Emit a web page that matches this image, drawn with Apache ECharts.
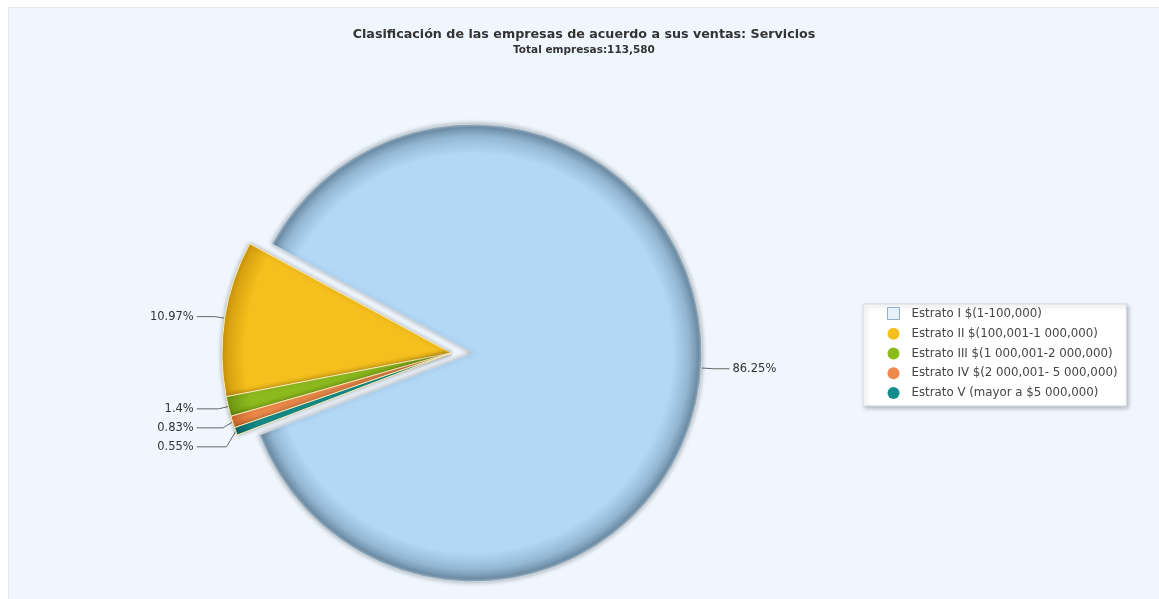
<!DOCTYPE html>
<html>
<head>
<meta charset="utf-8">
<script src="https://cdn.jsdelivr.net/npm/echarts@6/dist/echarts.min.js"></script>
<style>
  html, body { margin: 0; padding: 0; background: #ffffff; }
  #cv { position: absolute; left: 8px; top: 7px; width: 1151px; height: 592px;
        background: #eff6fd; border-left: 1px solid #e2eaf2; border-top: 1px solid #e2eaf2; box-sizing: border-box; }
</style>
</head>
<body>
<div id="cv"></div>
<script>
var estratos = ['Estrato I $(1-100,000)', 'Estrato II $(100,001-1 000,000)', 'Estrato III $(1 000,001-2 000,000)',
                'Estrato IV $(2 000,001- 5 000,000)', 'Estrato V (mayor a $5 000,000)'];
var porcentajes = [86.25, 10.97, 1.4, 0.83, 0.55];
var colores = ['#b3d8f6', '#f5bf1d', '#8dbb1e', '#ef8a4c', '#148e8d'];
var bordes = ['#6f8fa8', '#cf990d', '#6c9412', '#cf6a2c', '#0c6a69'];

// centro del pastel y desplazamiento del grupo separado
var cx = 464, cy = 345, radio = 229, separacion = 22;

var myChart = echarts.init(document.getElementById('cv'));

function relleno(i, x) {
    var stops = i === 0
        ? [{offset: 0, color: colores[0]}, {offset: 0.87, color: colores[0]},
           {offset: 0.945, color: '#93b7d3'}, {offset: 0.985, color: bordes[0]}, {offset: 1, color: '#a8bccc'}]
        : [{offset: 0, color: colores[i]}, {offset: 0.9, color: colores[i]}, {offset: 1, color: bordes[i]}];
    return {type: 'radial', x: x, y: cy, r: radio, global: true, colorStops: stops};
}

var oculto = {color: 'rgba(0,0,0,0)', borderWidth: 0, shadowBlur: 0};

// serie del estrato I (rebanada grande)
var datosGrande = estratos.map(function (n, i) {
    return {
        name: n,
        value: porcentajes[i],
        label: {show: i === 0},
        labelLine: {show: i === 0},
        itemStyle: i === 0
            ? {color: relleno(0, cx), borderColor: '#c9d6e0', borderWidth: 1, shadowBlur: 5, shadowColor: 'rgba(0,0,0,0.3)'}
            : oculto
    };
});

// serie de los estratos II-V (grupo separado)
var datosSeparados = estratos.map(function (n, i) {
    return {
        name: n,
        value: porcentajes[i],
        label: {show: i > 0},
        labelLine: {show: i > 0},
        itemStyle: i > 0
            ? {color: relleno(i, cx - separacion), borderColor: '#fbeab0', borderWidth: 1, shadowBlur: 5, shadowColor: 'rgba(0,0,0,0.3)'}
            : oculto
    };
});

var etiqueta = {
    formatter: '{c}%',
    fontFamily: 'DejaVu Sans',
    fontSize: 11.5,
    lineHeight: 17,
    color: '#333',
    distanceToLabelLine: 3
};

var option = {
    backgroundColor: 'transparent',
    title: {
        text: 'Clasificación de las empresas de acuerdo a sus ventas: Servicios',
        subtext: 'Total empresas:113,580',
        left: 'center',
        top: 15,
        itemGap: 4,
        textStyle: {fontFamily: 'DejaVu Sans', fontSize: 12.7, fontWeight: 'bold', color: '#333'},
        subtextStyle: {fontFamily: 'DejaVu Sans', fontSize: 10.5, fontWeight: 'bold', color: '#333'}
    },
    legend: {
        orient: 'vertical',
        left: 854,
        top: 296,
        padding: [3, 9, 7, 24],
        itemGap: 7.75,
        itemWidth: 12,
        itemHeight: 12,
        backgroundColor: '#ffffff',
        borderColor: '#d4d9de',
        borderWidth: 1,
        shadowColor: 'rgba(0,0,0,0.25)',
        shadowBlur: 4,
        shadowOffsetX: 2,
        shadowOffsetY: 2,
        textStyle: {fontFamily: 'DejaVu Sans', fontSize: 11.8, color: '#444', padding: [0, 0, 0, 7]},
        data: estratos.map(function (n, i) {
            return {name: n, icon: i === 0 ? 'rect' : 'circle',
                    itemStyle: i === 0 ? {color: '#e6f1fb', borderColor: '#8eb0cc', borderWidth: 1} : {color: colores[i]}};
        })
    },
    series: [{
        type: 'pie',
        center: [cx, cy],
        radius: radio,
        startAngle: 201,
        clockwise: false,
        animation: false,
        label: etiqueta,
        labelLine: {length: 12, length2: 16, lineStyle: {color: '#666', width: 1}},
        emphasis: {scale: false},
        data: datosGrande
    }, {
        type: 'pie',
        center: [cx - separacion, cy],
        radius: radio,
        startAngle: 201,
        clockwise: false,
        animation: false,
        avoidLabelOverlap: true,
        label: Object.assign({alignTo: 'labelLine'}, etiqueta),
        labelLine: {length: 10, length2: 18, lineStyle: {color: '#666', width: 1}},
        emphasis: {scale: false},
        data: datosSeparados
    }]
};

myChart.setOption(option);
</script>
</body>
</html>
